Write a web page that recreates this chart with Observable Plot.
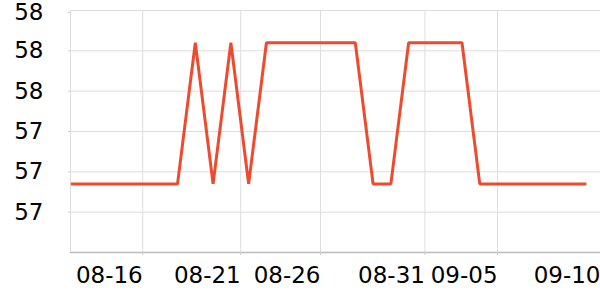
<!DOCTYPE html>
<html>
<head>
<meta charset="utf-8">
<script src="https://cdn.jsdelivr.net/npm/d3@7"></script>
<script src="https://cdn.jsdelivr.net/npm/@observablehq/plot@0.6"></script>
<style>
  html, body { margin: 0; padding: 0; background: #fff; }
  svg { display: block; }
</style>
</head>
<body>
<div id="chart"></div>
<script>
const dates = [
  "2024-08-12","2024-08-13","2024-08-14","2024-08-15","2024-08-16","2024-08-17",
  "2024-08-18","2024-08-19","2024-08-20","2024-08-21","2024-08-22","2024-08-23",
  "2024-08-24","2024-08-25","2024-08-26","2024-08-27","2024-08-28","2024-08-29",
  "2024-08-30","2024-08-31","2024-09-01","2024-09-02","2024-09-03","2024-09-04",
  "2024-09-05","2024-09-06","2024-09-07","2024-09-08","2024-09-09","2024-09-10"
];
const values = [
  57.27, 57.27, 57.27, 57.27, 57.27, 57.27, 57.27, 57.62, 57.27, 57.62,
  57.27, 57.62, 57.62, 57.62, 57.62, 57.62, 57.62, 57.27, 57.27, 57.62,
  57.62, 57.62, 57.62, 57.27, 57.27, 57.27, 57.27, 57.27, 57.27, 57.27
];
const xDomain = ["2024-08-11T23:30", "2024-09-10T19:00"];
const xTickDates = ["2024-08-16T01:00", "2024-08-21T13:20", "2024-08-26T01:00", "2024-08-31T22:00", "2024-09-05T00:00", "2024-09-10T19:00"];
const xTickLabels = ["08-16", "08-21", "08-26", "08-31", "09-05", "09-10"];
const yDomain = [57.1, 57.7];
const yTicks = [57.2, 57.3, 57.4, 57.5, 57.6, 57.7];

const parse = d3.utcParse("%Y-%m-%d");
const parseT = d3.utcParse("%Y-%m-%dT%H:%M");
const data = dates.map((d, i) => ({date: parse(d), value: values[i]}));
const xTicks = xTickDates.map(parseT);
const labelOf = new Map(xTicks.map((t, i) => [+t, xTickLabels[i]]));
const yTop = yTicks.slice(-1);
const yRest = yTicks.slice(0, -1);

const yAxisOpts = {
  tickFormat: d3.format(".0f"),
  tickSize: 2, tickPadding: 25, stroke: "#cccccc", fill: "#000",
  label: null, fontSize: 23
};

const chart = Plot.plot({
  width: 600,
  height: 300,
  marginLeft: 70,
  marginRight: 0,
  marginTop: 10,
  marginBottom: 48,
  style: {fontFamily: "DejaVu Sans", fontSize: "23px", color: "#000", background: "#fff"},
  x: {type: "utc", domain: xDomain.map(parseT)},
  y: {domain: yDomain},
  marks: [
    Plot.gridY(yTicks, {stroke: "#dddddd", strokeOpacity: 1, strokeWidth: 1}),
    Plot.gridX(xTicks, {stroke: "#dddddd", strokeOpacity: 1, strokeWidth: 1}),
    Plot.ruleX([parseT(xDomain[0])], {stroke: "#dddddd", strokeWidth: 1}),
    Plot.ruleY([yDomain[0]], {stroke: "#bbbbbb", strokeWidth: 1.5}),
    Plot.axisY(yRest, yAxisOpts),
    Plot.axisY(yTop, {...yAxisOpts, dy: 2}),
    Plot.axisX(xTicks, {
      tickFormat: (d) => labelOf.get(+d),
      textAnchor: "end",
      tickSize: 3, tickPadding: 11, stroke: "#cccccc", fill: "#000",
      label: null, fontSize: 23
    }),
    Plot.line(data, {
      x: "date", y: "value",
      stroke: "#ee4b2e", strokeWidth: 3,
      strokeLinejoin: "miter", strokeLinecap: "butt"
    })
  ]
});
document.getElementById("chart").append(chart);
</script>
</body>
</html>
